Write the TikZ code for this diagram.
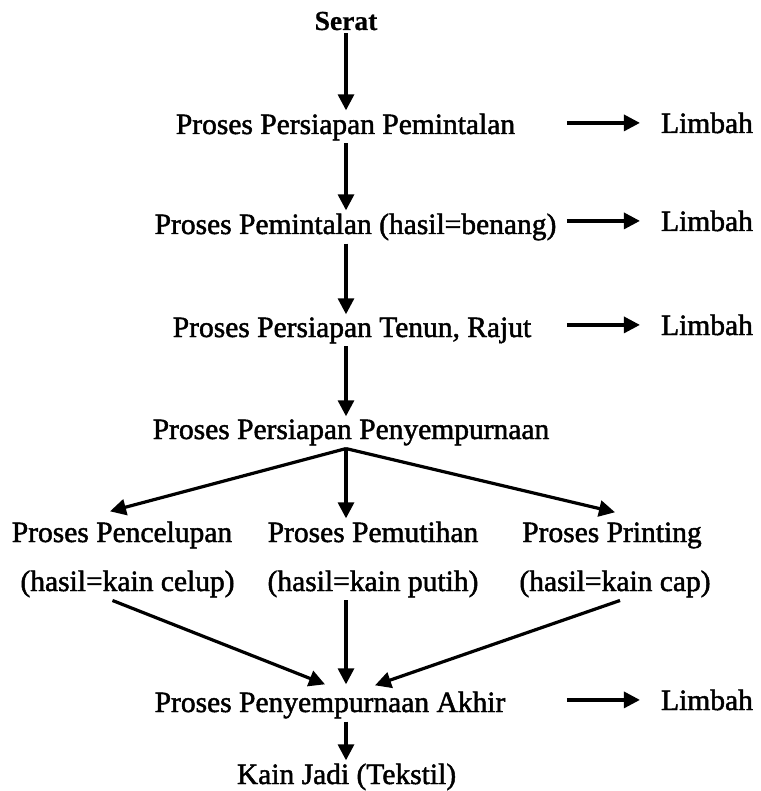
\documentclass[tikz,border=0pt]{standalone}
\usepackage{fontspec}
\setmainfont{Liberation Serif}[UprightFeatures={FakeBold=1.6},BoldFeatures={FakeBold=0.6}]
\usetikzlibrary{arrows.meta}
\begin{document}
\begin{tikzpicture}[x=1pt,y=-1pt,
  lbl/.style={anchor=base,inner sep=3pt,font=\fontsize{29.5}{34}\selectfont},
  arr/.style={line width=3.2pt,-{Triangle[length=16pt,width=16pt]}}]
\useasboundingbox (0,0) rectangle (760,791);
\node[lbl,font=\bfseries\fontsize{27.5}{32}\selectfont] (serat) at (346,30) {Serat};
\node[lbl] (t1) at (345.5,134) {Proses Persiapan Pemintalan};
\node[lbl] (l1) at (707,133) {Limbah};
\node[lbl] (t2) at (355.5,234) {Proses Pemintalan (hasil=benang)};
\node[lbl] (l2) at (707,231) {Limbah};
\node[lbl] (t3) at (352,337) {Proses Persiapan Tenun, Rajut};
\node[lbl] (l3) at (707,335) {Limbah};
\node[lbl] (t4) at (351,439) {Proses Persiapan Penyempurnaan};
\node[lbl] (p1) at (122,542) {Proses Pencelupan};
\node[lbl] (h1) at (127.5,591) {(hasil=kain celup)};
\node[lbl] (p2) at (373,542) {Proses Pemutihan};
\node[lbl] (h2) at (373,591) {(hasil=kain putih)};
\node[lbl] (p3) at (612,542) {Proses Printing};
\node[lbl] (h3) at (615,591) {(hasil=kain cap)};
\node[lbl] (t5) at (330,712) {Proses Penyempurnaan Akhir};
\node[lbl] (l5) at (707,710) {Limbah};
\node[lbl] (t6) at (346.5,784) {Kain Jadi (Tekstil)};
% main column
\draw[arr] (serat.south) -- (serat.south |- t1.north);
\draw[arr] (t1.south -| serat.south) -- (serat.south |- t2.north);
\draw[arr] (t2.south -| serat.south) -- (serat.south |- t3.north);
\draw[arr] (t3.south -| serat.south) -- (serat.south |- t4.north);
% waste arrows
\draw[arr] ([xshift=-91pt]l1.west) -- ([xshift=-18pt]l1.west);
\draw[arr] ([xshift=-91pt]l2.west) -- ([xshift=-18pt]l2.west);
\draw[arr] ([xshift=-91pt]l3.west) -- ([xshift=-18pt]l3.west);
\draw[arr] ([xshift=-91pt]l5.west) -- ([xshift=-18pt]l5.west);
% branching
\draw[arr] (t4.south -| serat.south) -- ([xshift=-12pt,yshift=7pt]p1.north);
\draw[arr] (t4.south -| serat.south) -- (serat.south |- p2.north);
\draw[arr] (t4.south -| serat.south) -- ([xshift=3pt,yshift=7pt]p3.north);
% converging
\draw[arr] ([xshift=-15pt]h1.south) -- ([xshift=-5pt,yshift=4pt]t5.north);
\draw[arr] (h2.south -| serat.south) -- ([yshift=4pt]serat.south |- t5.north);
\draw[arr] ([xshift=5pt]h3.south) -- ([xshift=45pt,yshift=3pt]t5.north);
\draw[arr] (t5.south -| serat.south) -- (serat.south |- t6.north);
\end{tikzpicture}
\end{document}
